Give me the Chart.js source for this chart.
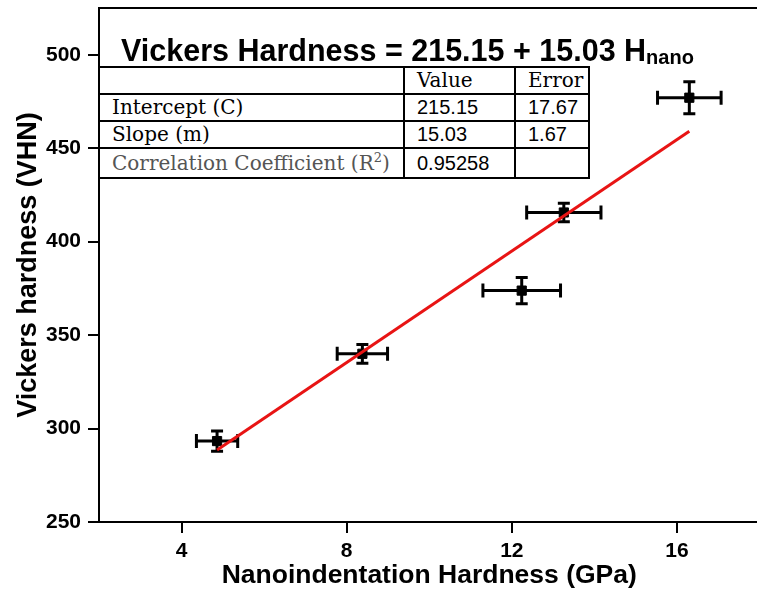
<!DOCTYPE html>
<html>
<head>
<meta charset="utf-8">
<script src="https://cdn.jsdelivr.net/npm/chart.js@4/dist/chart.umd.min.js"></script>
<style>
  html, body { margin: 0; padding: 0; background: #fff; overflow: hidden; width: 757px; height: 589px; }
  #wrap { position: relative; width: 757px; height: 589px; overflow: hidden; }
  #c { position: absolute; left: 0; top: 0; }
  #eq { position: absolute; left: 121px; top: 35px; font-family: "Liberation Sans", Arial, sans-serif; font-weight: bold; font-size: 30.5px; color: #000; white-space: nowrap; line-height: 1; }
  #eq sub { font-size: 20px; vertical-align: baseline; position: relative; top: 3px; }
  #tbl { position: absolute; left: 98px; top: 66px; border-collapse: collapse; table-layout: fixed; background: #fff; }
  #tbl td { border: 2px solid #000; padding: 0 0 0 12px; height: 25px; line-height: 25px; font-size: 20px; white-space: nowrap; overflow: hidden; color: #000; }
  #tbl td.s { font-family: "DejaVu Serif", "Liberation Serif", serif; }
  #tbl td.n { font-family: "Liberation Sans", Arial, sans-serif; }
  #tbl td.g { color: #555; }
  #tbl tr.last td { height: 28px; line-height: 28px; }
  #tbl sup { font-size: 13px; line-height: 0; vertical-align: baseline; position: relative; top: -8px; }
</style>
</head>
<body>
<div id="wrap">
  <canvas id="c" width="767" height="589"></canvas>
  <div id="eq">Vickers Hardness = 215.15 + 15.03 H<sub>nano</sub></div>
  <table id="tbl">
    <colgroup><col style="width:305px"><col style="width:111px"><col style="width:74px"></colgroup>
    <tr><td class="s"></td><td class="s">Value</td><td class="s">Error</td></tr>
    <tr><td class="s">Intercept (C)</td><td class="n">215.15</td><td class="n">17.67</td></tr>
    <tr><td class="s">Slope (m)</td><td class="n">15.03</td><td class="n">1.67</td></tr>
    <tr class="last"><td class="s g">Correlation Coefficient (R<sup>2</sup>)</td><td class="n">0.95258</td><td class="n"></td></tr>
  </table>
</div>
<script>
// ---- data ----
const nanoHardness = [4.86, 8.38, 12.24, 13.26, 16.3];     // GPa
const vickersHardness = [293.3, 340, 373.8, 415.6, 477];    // VHN
const nanoError = [0.5, 0.61, 0.94, 0.9, 0.77];
const vickersError = [5.4, 5, 7, 5, 8.6];
const fitX = [4.86, 16.3];
const fitY = [288.5, 459];
const xTicks = [4, 8, 12, 16];
const yTicks = [250, 300, 350, 400, 450, 500];
const xTitle = 'Nanoindentation Hardness (GPa)';
const yTitle = 'Vickers hardness (VHN)';

const errorBars = {
  id: 'errorBars',
  beforeDatasetsDraw(chart) {
    const ctx = chart.ctx, xs = chart.scales.x, ys = chart.scales.y;
    const cap = 7;
    ctx.save();
    ctx.strokeStyle = '#000';
    ctx.lineWidth = 3;
    ctx.lineCap = 'butt';
    nanoHardness.forEach((xv, i) => {
      const yv = vickersHardness[i];
      const px = xs.getPixelForValue(xv), py = ys.getPixelForValue(yv);
      const x1 = xs.getPixelForValue(xv - nanoError[i]), x2 = xs.getPixelForValue(xv + nanoError[i]);
      const y1 = ys.getPixelForValue(yv - vickersError[i]), y2 = ys.getPixelForValue(yv + vickersError[i]);
      ctx.beginPath();
      ctx.moveTo(x1, py); ctx.lineTo(x2, py);
      ctx.moveTo(x1, py - cap); ctx.lineTo(x1, py + cap);
      ctx.moveTo(x2, py - cap); ctx.lineTo(x2, py + cap);
      ctx.moveTo(px, y1); ctx.lineTo(px, y2);
      ctx.moveTo(px - 6, y1); ctx.lineTo(px + 6, y1);
      ctx.moveTo(px - 6, y2); ctx.lineTo(px + 6, y2);
      ctx.stroke();
    });
    ctx.restore();
  }
};

const frame = {
  id: 'frame',
  afterDraw(chart) {
    const { ctx, chartArea: a } = chart;
    ctx.save();
    ctx.strokeStyle = '#000';
    ctx.lineWidth = 2;
    ctx.beginPath();
    ctx.moveTo(a.left - 1, a.top); ctx.lineTo(a.right + 10, a.top);
    ctx.stroke();
    ctx.restore();
  }
};

const tickFont = { family: '"Liberation Sans", Arial, sans-serif', size: 21, weight: 'bold' };

new Chart(document.getElementById('c'), {
  type: 'scatter',
  data: {
    datasets: [
      {
        type: 'line',
        data: fitX.map((x, i) => ({ x, y: fitY[i] })),
        borderColor: 'rgb(232,20,20)',
        borderWidth: 3,
        pointRadius: 0,
        fill: false,
        order: 0
      },
      {
        data: nanoHardness.map((x, i) => ({ x, y: vickersHardness[i] })),
        backgroundColor: '#000',
        borderColor: '#000',
        pointStyle: 'rect',
        pointRadius: 6.5,
        order: 1
      }
    ]
  },
  options: {
    responsive: false,
    animation: false,
    layout: { padding: { top: 8, right: 3, left: 0, bottom: 0 } },
    plugins: { legend: { display: false }, tooltip: { enabled: false } },
    scales: {
      x: {
        type: 'linear', min: 2, max: 18,
        afterBuildTicks(s) { s.ticks = xTicks.map(v => ({ value: v })); },
        afterFit(s) { s.height = 67; s.paddingLeft = 0; s.paddingRight = 0; },
        grid: { drawOnChartArea: false, drawTicks: true, tickLength: 11, color: '#000', lineWidth: 2 },
        border: { display: true, color: '#000', width: 2 },
        ticks: { color: '#000', font: tickFont, padding: 6, maxRotation: 0 },
        title: { display: true, text: xTitle, color: '#000', font: { family: '"Liberation Sans", Arial, sans-serif', size: 26.5, weight: 'bold', lineHeight: 1 }, padding: { top: 0, bottom: 0 } }
      },
      y: {
        type: 'linear', min: 250, max: 525,
        afterBuildTicks(s) { s.ticks = yTicks.map(v => ({ value: v })); },
        afterFit(s) { s.width = 99; s.paddingTop = 0; s.paddingBottom = 0; },
        grid: { drawOnChartArea: false, drawTicks: true, tickLength: 11, color: '#000', lineWidth: 2 },
        border: { display: true, color: '#000', width: 2 },
        ticks: { color: '#000', font: tickFont, padding: 7 },
        title: { display: true, text: yTitle, color: '#000', font: { family: '"Liberation Sans", Arial, sans-serif', size: 27, weight: 'bold', lineHeight: 1 }, padding: { top: 15, bottom: 0 } }
      }
    }
  },
  plugins: [errorBars, frame]
});
</script>
</body>
</html>
